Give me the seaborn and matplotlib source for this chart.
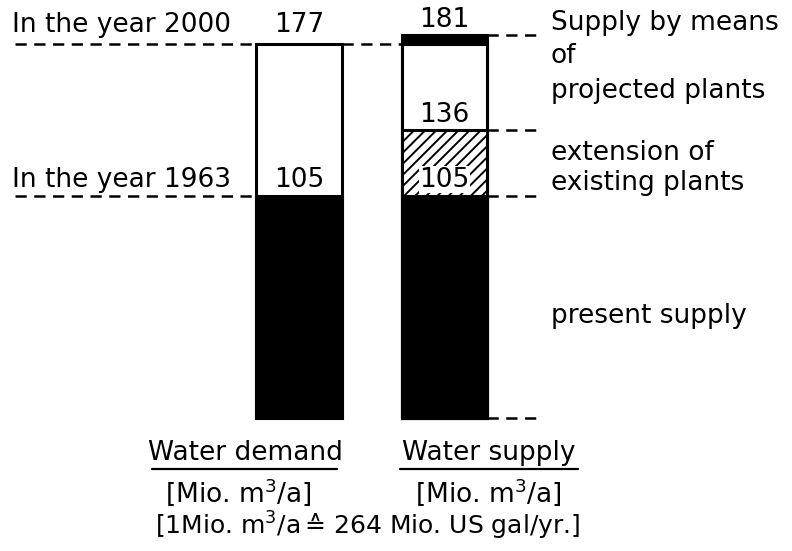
import matplotlib
matplotlib.use("Agg")
import matplotlib.pyplot as plt
import seaborn as sns

# --- data (Mio. m3/a) ---
categories = ["Water demand", "Water supply"]
demand_levels = [105, 177]              # 1963 demand, demand in 2000
supply_levels = [105, 136, 177, 181]    # present, +extension, +projected, total 2000
demand_labels = ["In the year 1963", "In the year 2000"]
note_lines = ["Supply by means", "of", "projected plants",
              "extension of", "existing plants", "present supply"]
unit_text = r"[Mio. m$^3$/a]"
conversion_text = r"[1Mio. m$^3$/a$\,$≙ 264 Mio. US gal/yr.]"

# layer styles, bottom to top
demand_styles = [dict(color="black"), dict(color="white")]
supply_styles = [dict(color="black"), dict(color="white", hatch="///"),
                 dict(color="white"), dict(color="black")]

BAR_W = 0.59
FS = 19

sns.set_style("white")
plt.rcParams["font.family"] = ["DejaVu Sans"]
plt.rcParams["text.color"] = "black"
plt.rcParams["hatch.linewidth"] = 1.4

fig = plt.figure(figsize=(7.92, 5.51), dpi=100)
ax = fig.add_axes([0, 0, 1, 1])


def px(x):
    # figure pixel column -> data x
    return (x - 299) / 145.5


def py(y):
    # figure pixel row -> data y
    return (418 - y) / 2.115


def draw_stack(cat, levels, styles):
    # draw tallest first so lower layers sit on top
    for level, style in sorted(zip(levels, styles), key=lambda t: -t[0]):
        sns.barplot(x=[cat], y=[level], order=categories, width=BAR_W,
                    saturation=1, edgecolor="black", linewidth=2.2,
                    ax=ax, **style)


draw_stack(categories[0], demand_levels, demand_styles)
draw_stack(categories[1], supply_levels, supply_styles)

ax.set_xlim(px(0), px(792))
ax.set_ylim(py(551), py(0))
ax.axis("off")

dash = dict(colors="black", linestyles=(0, (4.5, 3)), linewidth=1.8)
left_edge = 0 - BAR_W / 2
# left side guide lines
ax.hlines(demand_levels, px(15), left_edge, **dash)
# between the bars at the 2000 demand
ax.hlines(demand_levels[1], BAR_W / 2, 1 - BAR_W / 2, **dash)
# right side guide lines
ax.hlines([0] + supply_levels[:2] + [supply_levels[3]], 1 + BAR_W / 2, px(540), **dash)

# year labels + values
for lvl, lab, off in zip(demand_levels, demand_labels, [4.3, 5.4]):
    ax.text(px(12), lvl + off, lab, fontsize=FS, ha="left", va="baseline")
    ax.text(0, lvl + off, str(lvl), fontsize=FS, ha="center", va="baseline")

ax.text(1, supply_levels[3] + 4.0, str(supply_levels[3]), fontsize=FS,
        ha="center", va="baseline")
ax.text(1, supply_levels[1] + 3.8, str(supply_levels[1]), fontsize=FS,
        ha="center", va="baseline")
ax.text(1, supply_levels[0] + 4.3, str(supply_levels[0]), fontsize=FS,
        ha="center", va="baseline",
        bbox=dict(facecolor="white", edgecolor="none", pad=0.3))

# notes on the right, one line at a time
for line, base in zip(note_lines, [30, 63, 98, 160, 190, 323]):
    ax.text(px(551), py(base), line, fontsize=FS, ha="left", va="baseline")

# captions under the bars
ax.text(px(245), py(460), categories[0], fontsize=FS, ha="center", va="baseline")
ax.text(px(489), py(460), categories[1], fontsize=FS, ha="center", va="baseline")
ax.plot([px(152), px(337)], [py(469)] * 2, color="black", lw=1.6)
ax.plot([px(400), px(578)], [py(469)] * 2, color="black", lw=1.6)
ax.text(px(238), py(502), unit_text, fontsize=FS, ha="center", va="baseline")
ax.text(px(488), py(502), unit_text, fontsize=FS, ha="center", va="baseline")
ax.text(px(368), py(535), conversion_text, fontsize=FS - 1, ha="center",
        va="baseline")

fig.savefig("out.png", dpi=100, facecolor="white")
